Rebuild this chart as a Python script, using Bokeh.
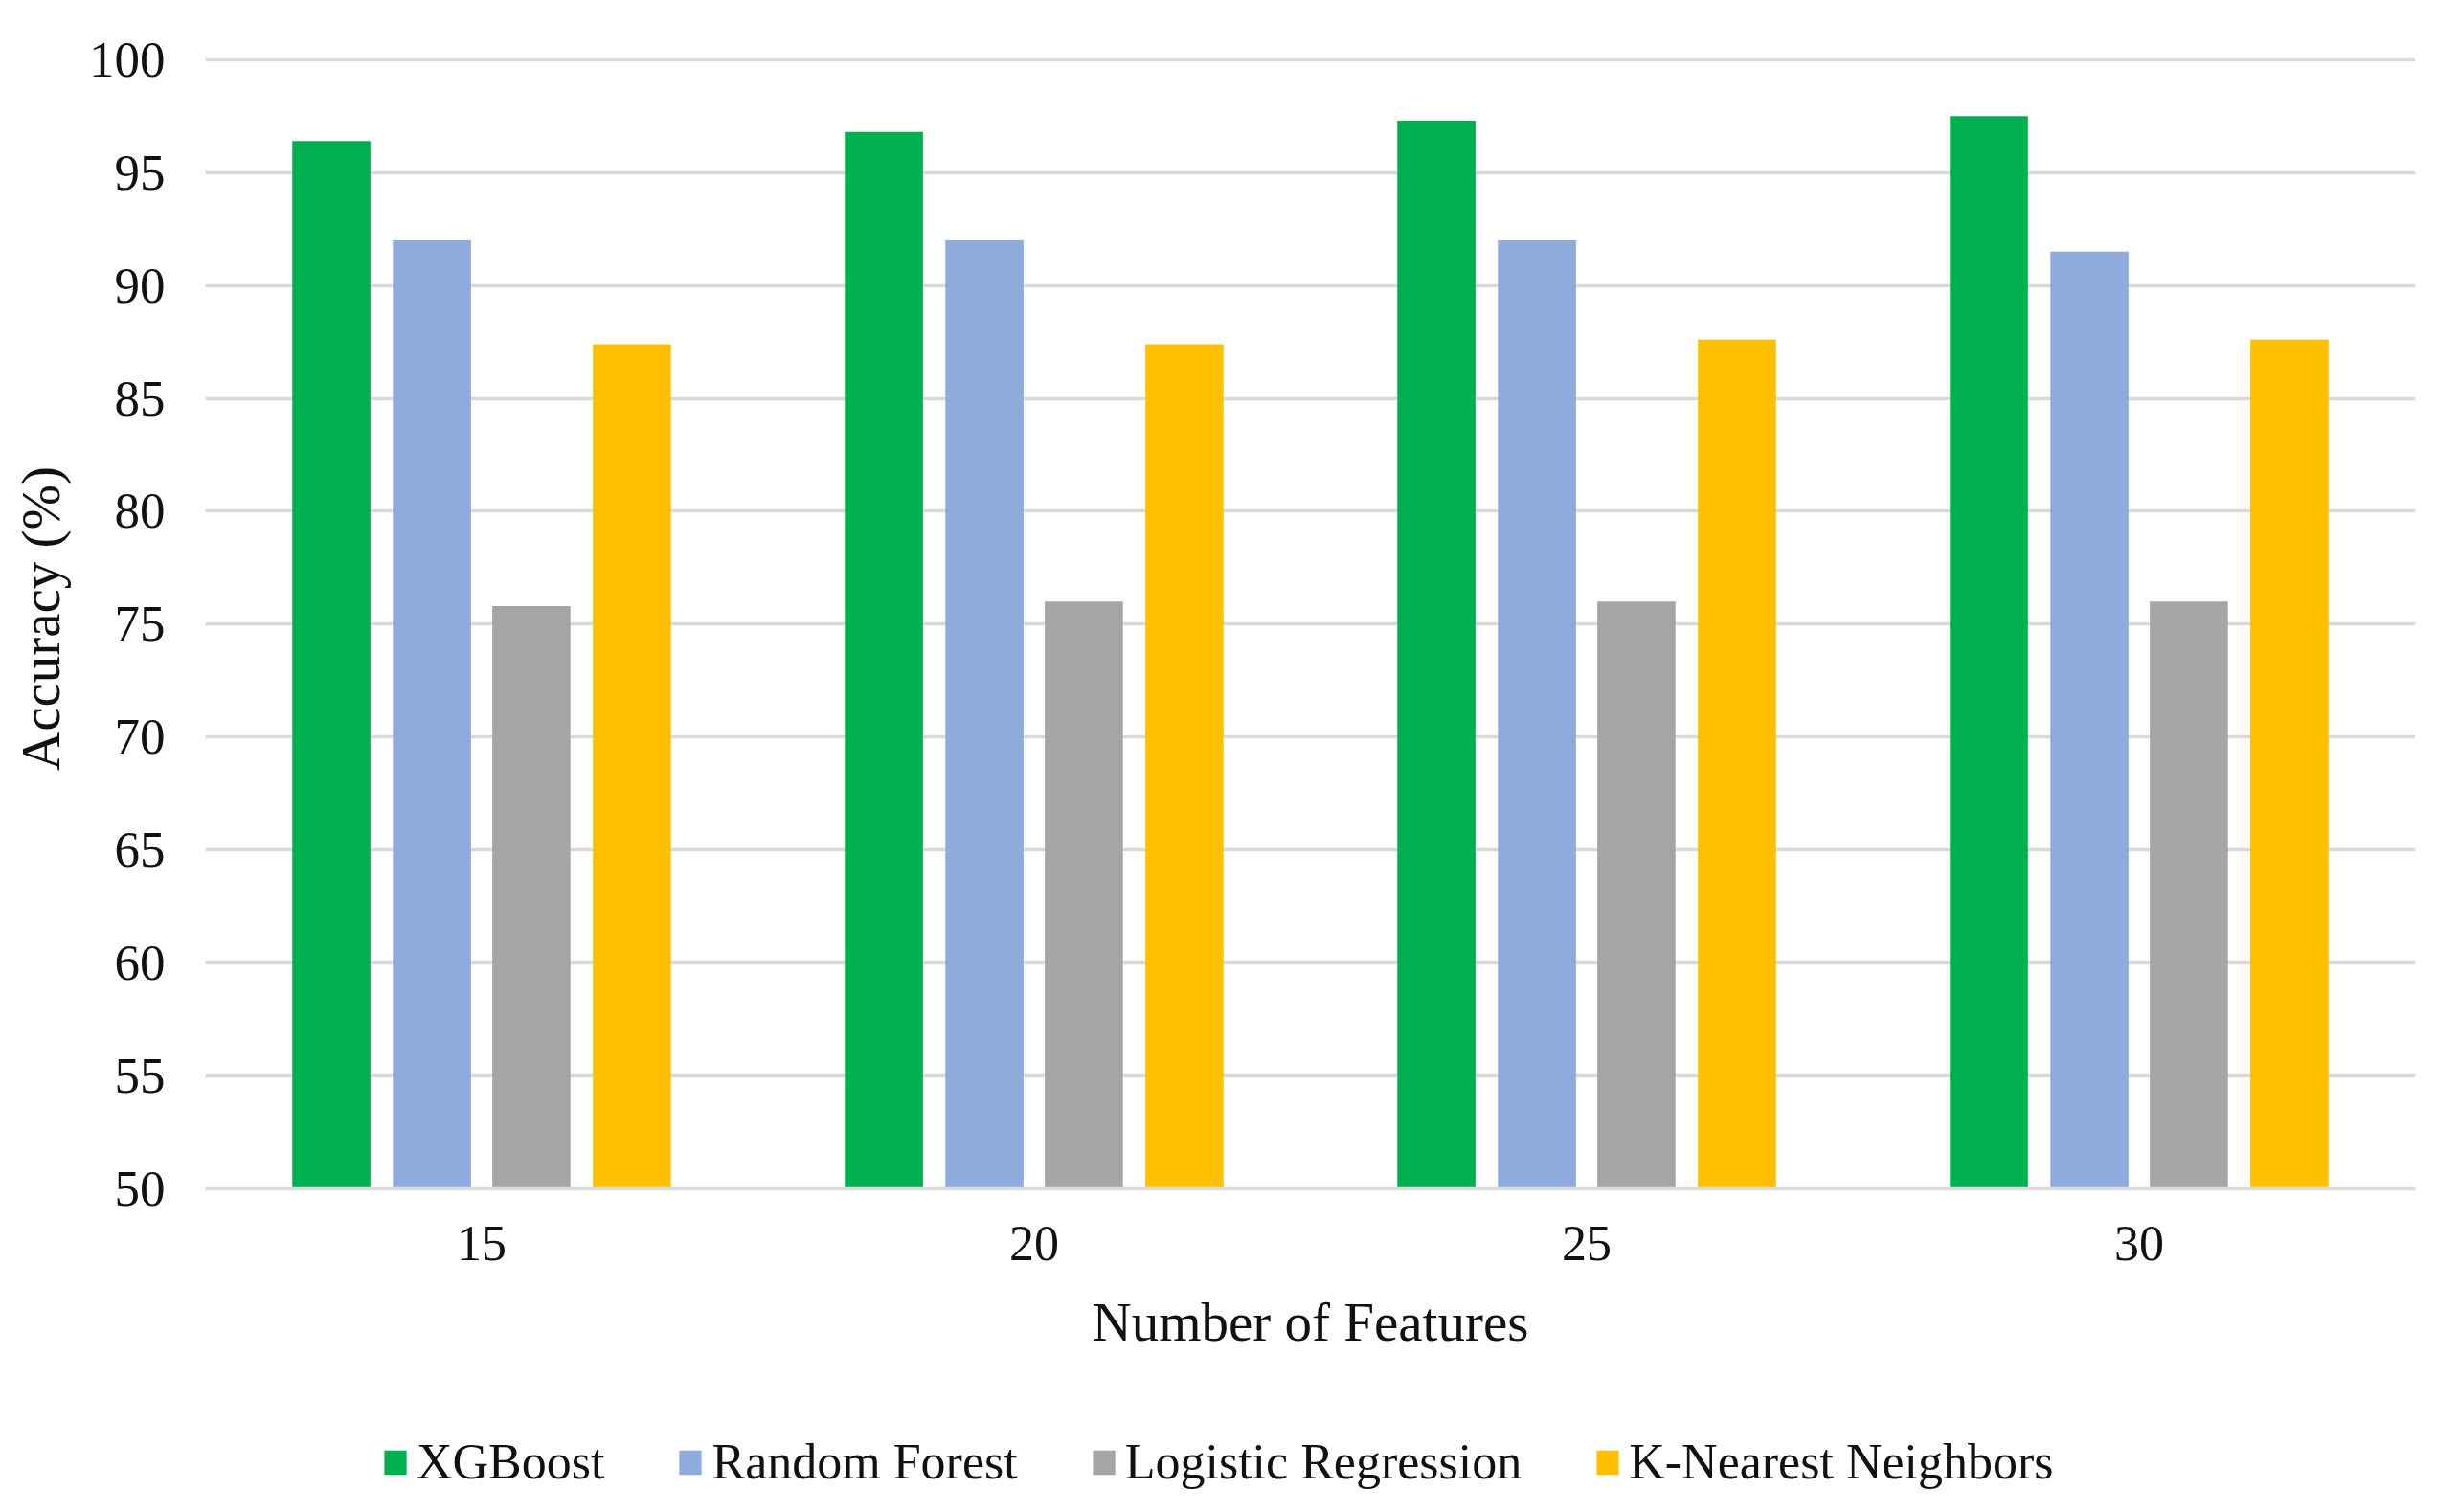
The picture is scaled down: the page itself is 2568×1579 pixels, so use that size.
from bokeh.plotting import figure
from bokeh.layouts import column
from bokeh.models import ColumnDataSource, Range1d, FactorRange, Legend, LegendItem, FixedTicker
from bokeh.transform import dodge
from bokeh.embed import file_html
from bokeh.resources import INLINE

features = ["15", "20", "25", "30"]
xgboost = [96.4, 96.8, 97.3, 97.5]
random_forest = [92.0, 92.0, 92.0, 91.5]
logistic_regression = [75.8, 76.0, 76.0, 76.0]
knn = [87.4, 87.4, 87.6, 87.6]
series_names = ["XGBoost", "Random Forest", "Logistic Regression", "K-Nearest Neighbors"]
colors = ["#00B050", "#8FAADC", "#A5A5A5", "#FFC000"]
y_ticks = [50, 55, 60, 65, 70, 75, 80, 85, 90, 95, 100]

FONT = "Liberation Serif"
TXT = "#111111"

source = ColumnDataSource(dict(features=features, xgb=xgboost, rf=random_forest,
                               lr=logistic_regression, knn=knn))

p = figure(width=2552, height=1460, x_range=FactorRange(*features, range_padding=0),
           y_range=Range1d(50, 100.5), output_backend="svg", toolbar_location=None,
           min_border_left=214, min_border_right=30, min_border_top=50, min_border_bottom=219)
p.outline_line_color = None

offsets = [-0.272, -0.09, 0.09, 0.272]
cols = ["xgb", "rf", "lr", "knn"]
for col, off, c in zip(cols, offsets, colors):
    p.vbar(x=dodge("features", off, range=p.x_range), top=col, bottom=50, width=0.1414,
           source=source, fill_color=c, line_color=None)

# grid
p.xgrid.grid_line_color = None
p.ygrid.grid_line_color = "#D9D9D9"
p.ygrid.grid_line_width = 3.5
p.yaxis.ticker = FixedTicker(ticks=y_ticks)

# y axis
p.yaxis.axis_line_color = None
p.yaxis.major_tick_line_color = None
p.yaxis.minor_tick_line_color = None
p.yaxis.major_tick_out = 0
p.yaxis.major_label_standoff = 42
p.yaxis.major_label_text_font = FONT
p.yaxis.major_label_text_font_size = "53px"
p.yaxis.major_label_text_color = TXT
p.yaxis.axis_label = "Accuracy (%)"
p.yaxis.axis_label_text_font = FONT
p.yaxis.axis_label_text_font_size = "57px"
p.yaxis.axis_label_text_font_style = "normal"
p.yaxis.axis_label_text_color = TXT
p.yaxis.axis_label_standoff = 16

# x axis
p.xaxis.axis_line_color = "#D9D9D9"
p.xaxis.axis_line_width = 3.5
p.xaxis.major_tick_line_color = None
p.xaxis.minor_tick_line_color = None
p.xaxis.major_tick_out = 0
p.xaxis.major_label_standoff = 39
p.xaxis.major_label_text_font = FONT
p.xaxis.major_label_text_font_size = "52px"
p.xaxis.major_label_text_color = TXT
p.xaxis.axis_label = "Number of Features"
p.xaxis.axis_label_text_font = FONT
p.xaxis.axis_label_text_font_size = "57px"
p.xaxis.axis_label_text_font_style = "normal"
p.xaxis.axis_label_text_color = TXT
p.xaxis.axis_label_standoff = 30

# legend strip below the chart (same series; its renderers are hidden, only the legend shows)
lg = figure(width=2552, height=111, x_range=FactorRange(*features, range_padding=0),
            y_range=Range1d(0, 1), output_backend="svg", toolbar_location=None,
            x_axis_location=None, y_axis_location=None,
            min_border_left=0, min_border_right=0, min_border_top=0, min_border_bottom=0)
lg.outline_line_color = None
lg.grid.visible = False
leg_renderers = []
for col, off, c in zip(cols, offsets, colors):
    r = lg.vbar(x=dodge("features", off, range=lg.x_range), top=col, bottom=50, width=0.1414,
                source=source, fill_color=c, line_color=None, visible=False)
    leg_renderers.append(r)
legend = Legend(items=[LegendItem(label=n, renderers=[r]) for n, r in zip(series_names, leg_renderers)],
                orientation="horizontal", location=(184, 15),
                glyph_width=29, glyph_height=32, label_standoff=8, spacing=75,
                padding=0, margin=0, border_line_color=None, background_fill_alpha=0,
                inactive_fill_alpha=0,
                label_text_font=FONT, label_text_font_size="52px", label_text_color=TXT)
lg.add_layout(legend, "center")

layout = column(p, lg, spacing=0)
open("out.html", "w").write(file_html(layout, INLINE))
